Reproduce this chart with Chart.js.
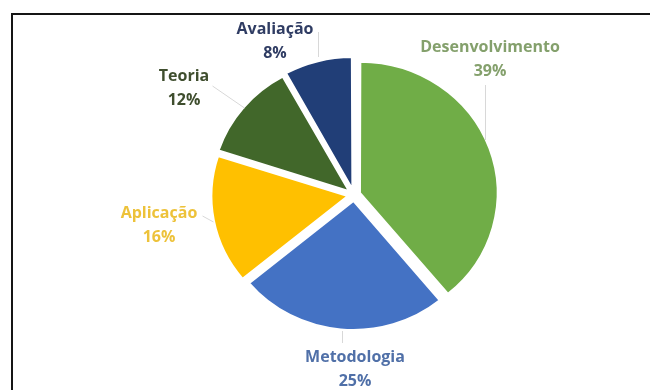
<!DOCTYPE html>
<html>
<head>
<meta charset="utf-8">
<script src="https://cdn.jsdelivr.net/npm/chart.js@4/dist/chart.umd.min.js"></script>
<style>
  html, body { margin: 0; padding: 0; background: #ffffff; }
  #wrap { position: relative; width: 650px; height: 390px; overflow: hidden; background: #ffffff; }
  #frame { position: absolute; left: 11px; top: 13px; width: 700px; height: 500px;
           border-left: 2px solid #151515; border-top: 2px solid #151515; pointer-events: none; }
  canvas { position: absolute; left: 0; top: 0; }
</style>
</head>
<body>
<div id="wrap">
  <canvas id="c" width="650" height="390"></canvas>
  <div id="frame"></div>
</div>
<script>
// ---- data ----
const categories = ['Desenvolvimento', 'Metodologia', 'Aplicação', 'Teoria', 'Avaliação'];
const values = [39, 25, 16, 12, 8];
const sliceColors = ['#70AD47', '#4472C4', '#FFC000', '#41672A', '#213E77'];
const labelColors = ['#84A06C', '#5070A8', '#EDC23A', '#3F4E2E', '#2F3C63'];

// ---- layout (label anchors and leader lines, in pixels) ----
const labelAnchors = [[490, 47], [355, 357], [159, 213], [184, 76], [275, 29]];
const leaderLines = [
  [[485, 85], [485, 140]],
  [[342, 331], [342, 343]],
  [[202, 216], [213, 222]],
  [[212, 86], [244, 108]],
  [[318, 32], [318, 57]]
];

const total = values.reduce((a, b) => a + b, 0);
const pctLabels = values.map(v => Math.round(v / total * 100) + '%');

const stretchX = 1.05;

const ellipsePlugin = {
  id: 'ellipse',
  beforeDatasetsDraw(chart) {
    const ctx = chart.ctx;
    const arc = chart.getDatasetMeta(0).data[0];
    ctx.save();
    ctx.translate(arc.x, arc.y);
    ctx.scale(stretchX, 1);
    ctx.translate(-arc.x, -arc.y);
  },
  afterDatasetsDraw(chart) {
    chart.ctx.restore();
  }
};

const labelPlugin = {
  id: 'sliceLabels',
  afterDraw(chart) {
    const ctx = chart.ctx;
    ctx.save();
    ctx.strokeStyle = '#d8d8d8';
    ctx.lineWidth = 1;
    leaderLines.forEach(seg => {
      ctx.beginPath();
      ctx.moveTo(seg[0][0] + 0.5, seg[0][1]);
      ctx.lineTo(seg[1][0] + 0.5, seg[1][1]);
      ctx.stroke();
    });
    ctx.font = 'bold 16px "Open Sans", Lato, sans-serif';
    ctx.textAlign = 'center';
    ctx.textBaseline = 'middle';
    categories.forEach((name, i) => {
      const [x, y] = labelAnchors[i];
      ctx.fillStyle = labelColors[i];
      ctx.fillText(name, x, y);
      ctx.fillText(pctLabels[i], x, y + 24);
    });
    ctx.restore();
  }
};

new Chart(document.getElementById('c'), {
  type: 'pie',
  data: {
    labels: categories,
    datasets: [{
      data: values,
      backgroundColor: sliceColors,
      borderColor: '#ffffff',
      borderWidth: 2,
      offset: 24,
      radius: 129,
      clip: false
    }]
  },
  options: {
    responsive: false,
    animation: false,
    devicePixelRatio: 1,
    layout: { padding: { left: 100, right: 42, top: 20, bottom: 20 } },
    plugins: {
      legend: { display: false },
      tooltip: { enabled: false }
    }
  },
  plugins: [ellipsePlugin, labelPlugin]
});
</script>
</body>
</html>
